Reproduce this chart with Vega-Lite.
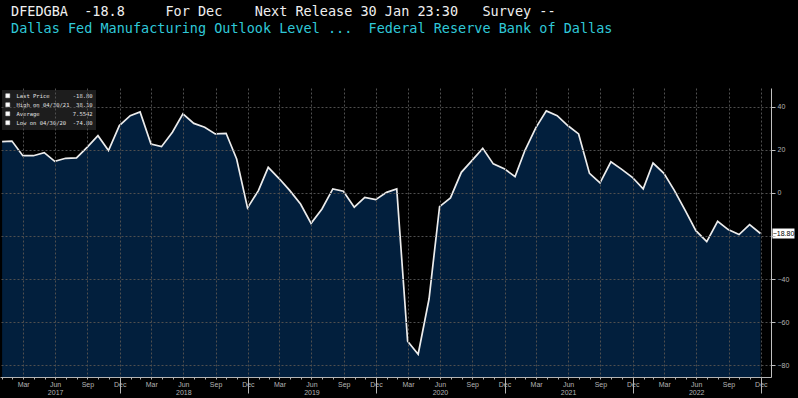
{
  "$schema": "https://vega.github.io/schema/vega-lite/v6.json",
  "width": 771,
  "height": 289,
  "autosize": {"type": "none"},
  "padding": {"left": 0, "top": 88, "right": 27, "bottom": 21},
  "background": "#000000",
  "title": {
    "text": "DFEDGBA\u00a0\u00a0-18.8\u00a0\u00a0\u00a0\u00a0\u00a0For\u00a0Dec\u00a0\u00a0\u00a0\u00a0Next\u00a0Release\u00a030\u00a0Jan\u00a023:30\u00a0\u00a0\u00a0Survey\u00a0--",
    "subtitle": "Dallas\u00a0Fed\u00a0Manufacturing\u00a0Outlook\u00a0Level\u00a0...\u00a0\u00a0Federal\u00a0Reserve\u00a0Bank\u00a0of\u00a0Dallas",
    "anchor": "start",
    "frame": "group",
    "dx": 11,
    "offset": 53,
    "font": "DejaVu Sans Mono",
    "fontSize": 13.5,
    "fontWeight": "normal",
    "color": "#efefef",
    "subtitleFont": "DejaVu Sans Mono",
    "subtitleFontSize": 13.5,
    "subtitleColor": "#2fc8d8",
    "subtitlePadding": 3
  },
  "config": {
    "view": {"stroke": null},
    "font": "Liberation Sans"
  },
  "data": {
    "values": [
      {"date": "2017-01-31", "value": 23.8}, {"date": "2017-02-28", "value": 24.1}, {"date": "2017-03-31", "value": 17.3},
      {"date": "2017-04-30", "value": 17.3}, {"date": "2017-05-31", "value": 18.7}, {"date": "2017-06-30", "value": 14.7},
      {"date": "2017-07-31", "value": 16.1}, {"date": "2017-08-31", "value": 16.3}, {"date": "2017-09-30", "value": 21.2},
      {"date": "2017-10-31", "value": 26.6}, {"date": "2017-11-30", "value": 19.7}, {"date": "2017-12-31", "value": 31.3},
      {"date": "2018-01-31", "value": 35.9}, {"date": "2018-02-28", "value": 37.6}, {"date": "2018-03-31", "value": 22.7},
      {"date": "2018-04-30", "value": 21.5}, {"date": "2018-05-31", "value": 28.2}, {"date": "2018-06-30", "value": 36.7},
      {"date": "2018-07-31", "value": 32.3}, {"date": "2018-08-31", "value": 30.5}, {"date": "2018-09-30", "value": 27.4},
      {"date": "2018-10-31", "value": 27.7}, {"date": "2018-11-30", "value": 15.8}, {"date": "2018-12-31", "value": -6.9},
      {"date": "2019-01-31", "value": 1.1}, {"date": "2019-02-28", "value": 11.9}, {"date": "2019-03-31", "value": 6.7},
      {"date": "2019-04-30", "value": 1.2}, {"date": "2019-05-31", "value": -5.1}, {"date": "2019-06-30", "value": -14.1},
      {"date": "2019-07-31", "value": -7.4}, {"date": "2019-08-31", "value": 1.9}, {"date": "2019-09-30", "value": 0.8},
      {"date": "2019-10-31", "value": -6.6}, {"date": "2019-11-30", "value": -2.0}, {"date": "2019-12-31", "value": -3.1},
      {"date": "2020-01-31", "value": 0.3}, {"date": "2020-02-29", "value": 1.9}, {"date": "2020-03-31", "value": -68.8},
      {"date": "2020-04-30", "value": -74.8}, {"date": "2020-05-31", "value": -49.2}, {"date": "2020-06-30", "value": -6.3},
      {"date": "2020-07-31", "value": -2.3}, {"date": "2020-08-31", "value": 9.6}, {"date": "2020-09-30", "value": 15.0},
      {"date": "2020-10-31", "value": 20.7}, {"date": "2020-11-30", "value": 13.5}, {"date": "2020-12-31", "value": 11.3},
      {"date": "2021-01-31", "value": 7.6}, {"date": "2021-02-28", "value": 19.7}, {"date": "2021-03-31", "value": 30.2},
      {"date": "2021-04-30", "value": 38.1}, {"date": "2021-05-31", "value": 35.9}, {"date": "2021-06-30", "value": 31.3},
      {"date": "2021-07-31", "value": 27.4}, {"date": "2021-08-31", "value": 9.1}, {"date": "2021-09-30", "value": 4.7},
      {"date": "2021-10-31", "value": 14.5}, {"date": "2021-11-30", "value": 11.1}, {"date": "2021-12-31", "value": 7.3},
      {"date": "2022-01-31", "value": 1.9}, {"date": "2022-02-28", "value": 13.9}, {"date": "2022-03-31", "value": 9.1},
      {"date": "2022-04-30", "value": 1.1}, {"date": "2022-05-31", "value": -8.2}, {"date": "2022-06-30", "value": -17.5},
      {"date": "2022-07-31", "value": -22.6}, {"date": "2022-08-31", "value": -13.1}, {"date": "2022-09-30", "value": -17.0},
      {"date": "2022-10-31", "value": -19.3}, {"date": "2022-11-30", "value": -14.7}, {"date": "2022-12-31", "value": -18.8}
    ]
  },
  "encoding": {
    "x": {
      "field": "date",
      "type": "temporal",
      "scale": {
        "type": "utc",
        "domain": [
          {"year": 2017, "month": 1, "date": 25, "utc": true},
          {"year": 2023, "month": 1, "date": 30, "utc": true}
        ]
      },
      "axis": {
        "title": null,
        "tickCount": {"interval": "month", "step": 1},
        "labelExpr": "utcmonth(datum.value) % 3 === 0 ? (utcmonth(datum.value) === 6 ? [utcFormat(datum.value - 86400000, '%b'), utcFormat(datum.value, '%Y')] : utcFormat(datum.value - 86400000, '%b')) : ''",
        "labelOverlap": false,
        "labelFlush": false,
        "labelFont": "Liberation Sans",
        "labelFontSize": 7,
        "labelLineHeight": 8,
        "labelColor": "#b4b4b4",
        "labelPadding": {"condition": {"test": "utcmonth(datum.value) === 0", "value": -13}, "value": 1},
        "tickColor": "#b4b4b4",
        "tickSize": {"condition": {"test": "utcmonth(datum.value) === 0", "value": 16}, "value": 2},
        "domainColor": "#b4b4b4",
        "grid": true,
        "gridColor": "#4f4f4f",
        "gridDash": [2, 2],
        "gridOpacity": {"condition": {"test": "utcmonth(datum.value) % 3 === 0", "value": 1}, "value": 0},
        "zindex": 1
      }
    }
  },
  "layer": [
    {
      "mark": {"type": "area", "color": "#021f3d"},
      "encoding": {
        "y": {
          "field": "value",
          "type": "quantitative",
          "scale": {"domain": [-85.38, 48.72], "nice": false, "zero": false},
          "axis": {
            "orient": "right",
            "title": null,
            "values": [-80, -70, -60, -50, -40, -30, -20, -10, 0, 10, 20, 30, 40],
            "labelExpr": "datum.value % 20 === 0 && datum.value !== -20 ? datum.label : ''",
            "labelFontSize": 7,
            "labelColor": "#b4b4b4",
            "labelPadding": 2,
            "tickColor": "#c0c0c0",
            "tickSize": {"condition": {"test": "datum.value % 20 === 0", "value": 4}, "value": 2},
            "domainColor": "#c0c0c0",
            "grid": true,
            "gridColor": "#4f4f4f",
            "gridDash": [2, 2],
            "gridOpacity": {"condition": {"test": "datum.value % 20 === 0", "value": 1}, "value": 0},
            "zindex": 1
          }
        },
        "y2": {"datum": -85.38}
      }
    },
    {
      "mark": {"type": "line", "strokeWidth": 1.7},
      "encoding": {
        "y": {"field": "value", "type": "quantitative"},
        "color": {
          "datum": "Last\u00a0Price\u00a0\u00a0\u00a0\u00a0\u00a0\u00a0\u00a0-18.80",
          "scale": {
            "domain": [
              "Last\u00a0Price\u00a0\u00a0\u00a0\u00a0\u00a0\u00a0\u00a0-18.80",
              "High\u00a0on\u00a004/30/21\u00a0\u00a038.10",
              "Average\u00a0\u00a0\u00a0\u00a0\u00a0\u00a0\u00a0\u00a0\u00a0\u00a07.5542",
              "Low\u00a0on\u00a004/30/20\u00a0\u00a0-74.80"
            ],
            "range": ["#ececec", "#ececec", "#ececec", "#ececec"]
          },
          "legend": {
            "title": null,
            "orient": "top-left",
            "offset": 2,
            "fillColor": "#1d1d1d",
            "padding": 3,
            "labelFont": "DejaVu Sans Mono",
            "labelFontSize": 5.5,
            "labelColor": "#e0e0e0",
            "labelLimit": 200,
            "labelOffset": 6,
            "rowPadding": 1,
            "symbolType": "square",
            "symbolSize": 16,
            "symbolFillColor": "#ffffff",
            "symbolStrokeWidth": 0.5
          }
        }
      }
    },
    {
      "transform": [{"filter": "utcyear(datum.date) === 2022 && utcmonth(datum.date) === 11"}],
      "mark": {"type": "point", "shape": "M-2.2,-1H2.2V1H-2.2Z", "filled": true, "color": "#ffffff", "opacity": 1, "size": 100, "xOffset": 23, "clip": false},
      "encoding": {"y": {"field": "value", "type": "quantitative"}}
    },
    {
      "transform": [{"filter": "utcyear(datum.date) === 2022 && utcmonth(datum.date) === 11"}],
      "mark": {"type": "text", "dx": 23, "fontSize": 7, "color": "#000000", "align": "center", "baseline": "middle"},
      "encoding": {
        "y": {"field": "value", "type": "quantitative"},
        "text": {"field": "value", "type": "quantitative", "format": ".2f"}
      }
    }
  ]
}
